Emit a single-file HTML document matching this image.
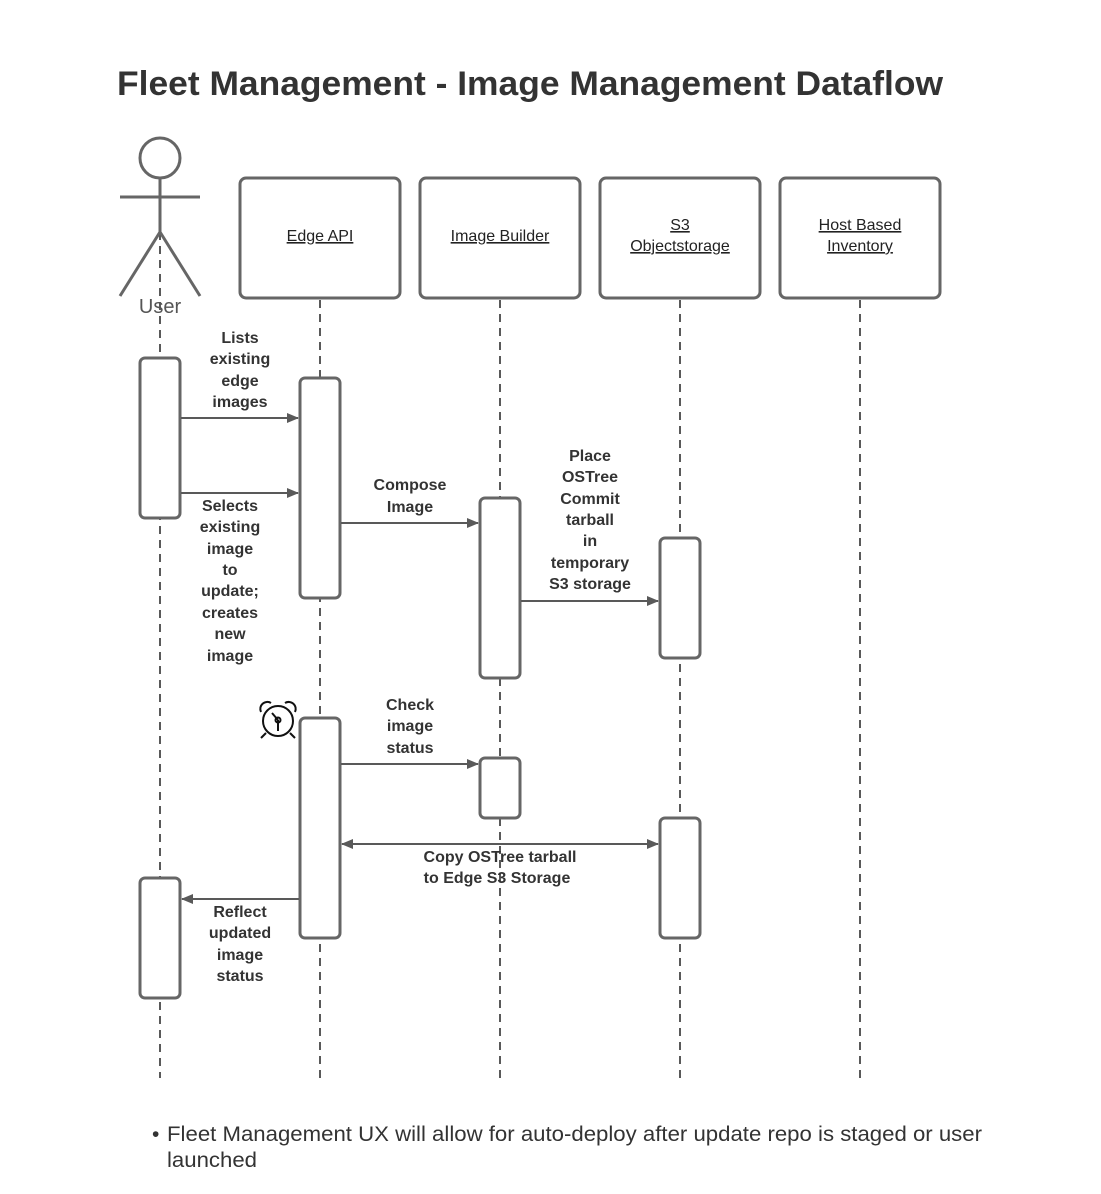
<!DOCTYPE html>
<html><head><meta charset="utf-8"><style>
html,body{margin:0;padding:0;background:#fff;}
svg{display:block;}
text{font-family:"Liberation Sans",Arial,sans-serif;fill:#333;}
.b{font-weight:bold;font-size:16px;text-anchor:middle;}
.h{font-size:16px;text-anchor:middle;text-decoration:underline;fill:#222;}
</style></head><body>
<svg width="1101" height="1194" viewBox="0 0 1101 1194" xmlns="http://www.w3.org/2000/svg">
<defs>
<marker id="a" markerWidth="12" markerHeight="10" refX="11" refY="5" orient="auto" markerUnits="userSpaceOnUse">
<path d="M0,0 L12,5 L0,10 Z" fill="#595959"/></marker>
<marker id="s" markerWidth="12" markerHeight="10" refX="1" refY="5" orient="auto" markerUnits="userSpaceOnUse">
<path d="M12,0 L0,5 L12,10 Z" fill="#595959"/></marker>
</defs>
<text x="117" y="95" font-size="34" font-weight="bold" textLength="826" lengthAdjust="spacingAndGlyphs" style="fill:#333">Fleet Management - Image Management Dataflow</text>

<g stroke="#595959" stroke-width="2" stroke-dasharray="8,6" fill="none">
<line x1="160" y1="232" x2="160" y2="1078"/>
<line x1="320" y1="300" x2="320" y2="1078"/>
<line x1="500" y1="300" x2="500" y2="1078"/>
<line x1="680" y1="300" x2="680" y2="1078"/>
<line x1="860" y1="300" x2="860" y2="1078"/>
</g>

<g stroke="#666" stroke-width="3" fill="none">
<circle cx="160" cy="158" r="20"/>
<line x1="160" y1="178" x2="160" y2="232"/>
<line x1="120" y1="197" x2="200" y2="197"/>
<line x1="160" y1="232" x2="120" y2="296"/>
<line x1="160" y1="232" x2="200" y2="296"/>
</g>
<text x="160" y="313" font-size="20" text-anchor="middle" style="fill:#555">User</text>

<g stroke="#666" stroke-width="3" fill="#fff">
<rect x="240" y="178" width="160" height="120" rx="6"/>
<rect x="420" y="178" width="160" height="120" rx="6"/>
<rect x="600" y="178" width="160" height="120" rx="6"/>
<rect x="780" y="178" width="160" height="120" rx="6"/>
</g>
<text class="h" x="320" y="241">Edge API</text>
<text class="h" x="500" y="241">Image Builder</text>
<text class="h" x="680" y="230">S3</text>
<text class="h" x="680" y="251">Objectstorage</text>
<text class="h" x="860" y="230">Host Based</text>
<text class="h" x="860" y="251">Inventory</text>

<g stroke="#666" stroke-width="3" fill="#fff">
<rect x="140" y="358" width="40" height="160" rx="5"/>
<rect x="300" y="378" width="40" height="220" rx="5"/>
<rect x="480" y="498" width="40" height="180" rx="5"/>
<rect x="660" y="538" width="40" height="120" rx="5"/>
<rect x="300" y="718" width="40" height="220" rx="5"/>
<rect x="480" y="758" width="40" height="60" rx="5"/>
<rect x="660" y="818" width="40" height="120" rx="5"/>
<rect x="140" y="878" width="40" height="120" rx="5"/>
</g>

<g stroke="#595959" stroke-width="2" fill="none">
<line x1="181" y1="418" x2="298" y2="418" marker-end="url(#a)"/>
<line x1="181" y1="493" x2="298" y2="493" marker-end="url(#a)"/>
<line x1="341" y1="523" x2="478" y2="523" marker-end="url(#a)"/>
<line x1="521" y1="601" x2="658" y2="601" marker-end="url(#a)"/>
<line x1="341" y1="764" x2="478" y2="764" marker-end="url(#a)"/>
<line x1="342" y1="844" x2="658" y2="844" marker-start="url(#s)" marker-end="url(#a)"/>
<line x1="299" y1="899" x2="182" y2="899" marker-end="url(#a)"/>
</g>

<g class="b">
<text class="b" x="240" y="343">Lists</text>
<text class="b" x="240" y="364">existing</text>
<text class="b" x="240" y="386">edge</text>
<text class="b" x="240" y="407">images</text>

<text class="b" x="230" y="511">Selects</text>
<text class="b" x="230" y="532">existing</text>
<text class="b" x="230" y="554">image</text>
<text class="b" x="230" y="575">to</text>
<text class="b" x="230" y="596">update;</text>
<text class="b" x="230" y="618">creates</text>
<text class="b" x="230" y="639">new</text>
<text class="b" x="230" y="661">image</text>

<text class="b" x="410" y="490">Compose</text>
<text class="b" x="410" y="512">Image</text>

<text class="b" x="590" y="461">Place</text>
<text class="b" x="590" y="482">OSTree</text>
<text class="b" x="590" y="504">Commit</text>
<text class="b" x="590" y="525">tarball</text>
<text class="b" x="590" y="546">in</text>
<text class="b" x="590" y="568">temporary</text>
<text class="b" x="590" y="589">S3 storage</text>

<text class="b" x="410" y="710">Check</text>
<text class="b" x="410" y="731">image</text>
<text class="b" x="410" y="753">status</text>

<text class="b" x="500" y="862">Copy OSTree tarball</text>
<text class="b" x="497" y="883">to Edge S3 Storage</text>

<text class="b" x="240" y="917">Reflect</text>
<text class="b" x="240" y="938">updated</text>
<text class="b" x="240" y="960">image</text>
<text class="b" x="240" y="981">status</text>
</g>

<g stroke="#111" stroke-width="2" fill="none">
<circle cx="278" cy="721" r="15"/>
<path d="M261,712 a7,7 0 0 1 10,-9"/>
<path d="M285,703 a7,7 0 0 1 10,9"/>
<line x1="266" y1="733" x2="261" y2="738"/>
<line x1="290" y1="733" x2="295" y2="738"/>
<line x1="278" y1="720" x2="272" y2="713"/>
<line x1="278" y1="720" x2="278" y2="731"/>
<circle cx="278" cy="720" r="2.5"/>
</g>

<text x="152" y="1141" font-size="21" style="fill:#333">•</text>
<text x="167" y="1141" font-size="21" textLength="815" lengthAdjust="spacingAndGlyphs" style="fill:#333">Fleet Management UX will allow for auto-deploy after update repo is staged or user</text>
<text x="167" y="1167" font-size="21" textLength="90" lengthAdjust="spacingAndGlyphs" style="fill:#333">launched</text>
</svg>
</body></html>
